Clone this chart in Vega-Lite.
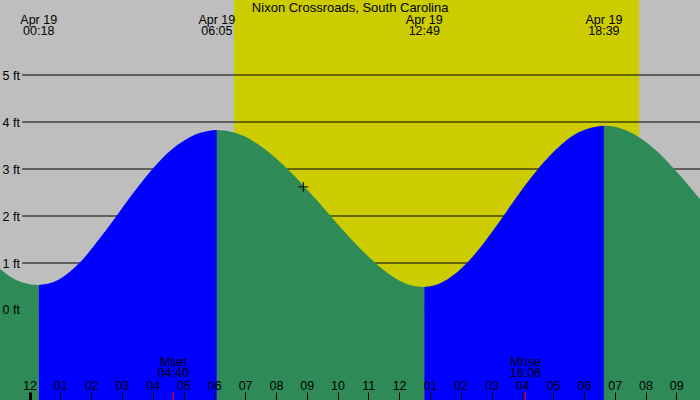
{
  "$schema": "https://vega.github.io/schema/vega-lite/v6.json",
  "width": 700,
  "height": 400,
  "padding": 0,
  "autosize": {"type": "none"},
  "background": "#BEBEBE",
  "config": {
    "font": "Liberation Sans",
    "view": {"stroke": null, "fill": "#BEBEBE"},
    "axis": {"labelFont": "Liberation Sans", "labelFontSize": 12.5, "labelColor": "#000000"}
  },
  "datasets": {
    "tide": [
      {"t": -0.958, "ft": 0.87, "seg": "A", "dir": "fall"},
      {"t": -0.5, "ft": 0.66, "seg": "A", "dir": "fall"},
      {"t": 0.0, "ft": 0.55, "seg": "A", "dir": "fall"},
      {"t": 0.3, "ft": 0.53, "seg": "A", "dir": "fall"},
      {"t": 0.3, "ft": 0.53, "seg": "B", "dir": "rise"},
      {"t": 0.8, "ft": 0.6, "seg": "B", "dir": "rise"},
      {"t": 1.3, "ft": 0.81, "seg": "B", "dir": "rise"},
      {"t": 1.8, "ft": 1.13, "seg": "B", "dir": "rise"},
      {"t": 2.3, "ft": 1.54, "seg": "B", "dir": "rise"},
      {"t": 2.8, "ft": 1.98, "seg": "B", "dir": "rise"},
      {"t": 3.3, "ft": 2.43, "seg": "B", "dir": "rise"},
      {"t": 3.8, "ft": 2.85, "seg": "B", "dir": "rise"},
      {"t": 4.3, "ft": 3.22, "seg": "B", "dir": "rise"},
      {"t": 4.8, "ft": 3.51, "seg": "B", "dir": "rise"},
      {"t": 5.3, "ft": 3.71, "seg": "B", "dir": "rise"},
      {"t": 5.8, "ft": 3.81, "seg": "B", "dir": "rise"},
      {"t": 6.083, "ft": 3.83, "seg": "B", "dir": "rise"},
      {"t": 6.083, "ft": 3.83, "seg": "C", "dir": "fall"},
      {"t": 6.5, "ft": 3.8, "seg": "C", "dir": "fall"},
      {"t": 7.0, "ft": 3.69, "seg": "C", "dir": "fall"},
      {"t": 7.5, "ft": 3.49, "seg": "C", "dir": "fall"},
      {"t": 8.0, "ft": 3.23, "seg": "C", "dir": "fall"},
      {"t": 8.5, "ft": 2.92, "seg": "C", "dir": "fall"},
      {"t": 9.0, "ft": 2.57, "seg": "C", "dir": "fall"},
      {"t": 9.5, "ft": 2.21, "seg": "C", "dir": "fall"},
      {"t": 10.0, "ft": 1.83, "seg": "C", "dir": "fall"},
      {"t": 10.5, "ft": 1.47, "seg": "C", "dir": "fall"},
      {"t": 11.0, "ft": 1.14, "seg": "C", "dir": "fall"},
      {"t": 11.5, "ft": 0.85, "seg": "C", "dir": "fall"},
      {"t": 12.0, "ft": 0.63, "seg": "C", "dir": "fall"},
      {"t": 12.5, "ft": 0.51, "seg": "C", "dir": "fall"},
      {"t": 12.817, "ft": 0.49, "seg": "C", "dir": "fall"},
      {"t": 12.817, "ft": 0.49, "seg": "D", "dir": "rise"},
      {"t": 13.3, "ft": 0.56, "seg": "D", "dir": "rise"},
      {"t": 13.8, "ft": 0.76, "seg": "D", "dir": "rise"},
      {"t": 14.3, "ft": 1.07, "seg": "D", "dir": "rise"},
      {"t": 14.8, "ft": 1.47, "seg": "D", "dir": "rise"},
      {"t": 15.3, "ft": 1.92, "seg": "D", "dir": "rise"},
      {"t": 15.8, "ft": 2.39, "seg": "D", "dir": "rise"},
      {"t": 16.3, "ft": 2.83, "seg": "D", "dir": "rise"},
      {"t": 16.8, "ft": 3.22, "seg": "D", "dir": "rise"},
      {"t": 17.3, "ft": 3.54, "seg": "D", "dir": "rise"},
      {"t": 17.8, "ft": 3.77, "seg": "D", "dir": "rise"},
      {"t": 18.3, "ft": 3.89, "seg": "D", "dir": "rise"},
      {"t": 18.65, "ft": 3.92, "seg": "D", "dir": "rise"},
      {"t": 18.65, "ft": 3.92, "seg": "E", "dir": "fall"},
      {"t": 19.0, "ft": 3.9, "seg": "E", "dir": "fall"},
      {"t": 19.5, "ft": 3.78, "seg": "E", "dir": "fall"},
      {"t": 20.0, "ft": 3.58, "seg": "E", "dir": "fall"},
      {"t": 20.5, "ft": 3.3, "seg": "E", "dir": "fall"},
      {"t": 21.0, "ft": 2.95, "seg": "E", "dir": "fall"},
      {"t": 21.5, "ft": 2.57, "seg": "E", "dir": "fall"},
      {"t": 21.769, "ft": 2.36, "seg": "E", "dir": "fall"}
    ],
    "extremes": [
      {"t": 0.3, "date": "Apr 19", "time": "00:18"},
      {"t": 6.083, "date": "Apr 19", "time": "06:05"},
      {"t": 12.817, "date": "Apr 19", "time": "12:49"},
      {"t": 18.65, "date": "Apr 19", "time": "18:39"}
    ],
    "moon": [
      {"t": 4.667, "name": "Mset", "time": "04:40"},
      {"t": 16.1, "name": "Mrise", "time": "16:06"}
    ],
    "levels": [{"level": 0}, {"level": 1}, {"level": 2}, {"level": 3}, {"level": 4}, {"level": 5}],
    "daylight": [{"t": 6.64, "t2": 19.79}],
    "now": [{"t": 8.89, "ft": 2.62}],
    "title": [{"t": 10.41, "label": "Nixon Crossroads, South Carolina"}]
  },
  "encoding": {
    "x": {"field": "t", "type": "quantitative", "scale": {"domain": [-0.958, 21.769], "nice": false, "zero": false},
      "axis": {
        "orient": "bottom", "offset": -8, "values": [-1,0,1,2,3,4,5,6,7,8,9,10,11,12,13,14,15,16,17,18,19,20,21],
        "domain": false, "grid": false, "title": null, "ticks": true, "tickSize": 8, "tickColor": "#000000",
        "tickWidth": {"condition": {"test": "datum.value === 0", "value": 3}, "value": 1},
        "labelPadding": -14.3, "labelBaseline": "middle", "labelOverlap": false, "labelFlush": false, "labelBound": false,
        "labelExpr": "(((datum.value+11)%12+12)%12+1) < 10 ? '0' + (((datum.value+11)%12+12)%12+1) : '' + (((datum.value+11)%12+12)%12+1)",
        "zindex": 1
      }}
  },
  "layer": [
    {
      "data": {"name": "daylight"},
      "mark": {"type": "rect", "color": "#CCCC00"},
      "encoding": {"x2": {"field": "t2"}}
    },
    {
      "data": {"name": "levels"},
      "transform": [{"calculate": "-0.24", "as": "t"}, {"calculate": "21.769", "as": "t2"}],
      "mark": {"type": "rule", "color": "#000000", "strokeWidth": 1},
      "encoding": {
        "y": {"field": "level", "type": "quantitative", "scale": {"domain": [-1.915, 6.596], "nice": false, "zero": false},
          "axis": {
            "orient": "left", "values": [0,1,2,3,4,5], "domain": false, "grid": false, "ticks": false, "title": null,
            "labelAlign": "left", "labelPadding": -2, "labelBaseline": "middle", "labelExpr": "datum.value + ' ft'", "zindex": 1
          }},
        "x2": {"field": "t2"}
      }
    },
    {
      "data": {"name": "tide"},
      "mark": {"type": "area", "interpolate": "monotone"},
      "encoding": {
        "y": {"field": "ft", "type": "quantitative", "stack": null},
        "y2": {"datum": -1.915},
        "color": {"field": "dir", "type": "nominal", "scale": {"domain": ["rise", "fall"], "range": ["#0000FF", "#2E8B57"]}, "legend": null},
        "detail": {"field": "seg"}
      }
    },
    {
      "data": {"name": "extremes"},
      "mark": {"type": "text", "fontSize": 12.5, "color": "#000000", "align": "center", "baseline": "middle"},
      "encoding": {"y": {"datum": 6.18}, "text": {"field": "date"}}
    },
    {
      "data": {"name": "extremes"},
      "mark": {"type": "text", "fontSize": 12.5, "color": "#000000", "align": "center", "baseline": "middle"},
      "encoding": {"y": {"datum": 5.93}, "text": {"field": "time"}}
    },
    {
      "data": {"name": "title"},
      "mark": {"type": "text", "fontSize": 13, "color": "#000000", "align": "center", "baseline": "middle"},
      "encoding": {"y": {"datum": 6.436}, "text": {"field": "label"}}
    },
    {
      "data": {"name": "moon"},
      "mark": {"type": "text", "fontSize": 12.5, "color": "#000000", "align": "center", "baseline": "middle"},
      "encoding": {"y": {"datum": -1.1}, "text": {"field": "name"}}
    },
    {
      "data": {"name": "moon"},
      "mark": {"type": "text", "fontSize": 12.5, "color": "#000000", "align": "center", "baseline": "middle"},
      "encoding": {"y": {"datum": -1.347}, "text": {"field": "time"}}
    },
    {
      "data": {"name": "moon"},
      "mark": {"type": "rule", "color": "#FF0000", "strokeWidth": 1},
      "encoding": {"y": {"datum": -1.915}, "y2": {"datum": -1.745}}
    },
    {
      "data": {"name": "now"},
      "mark": {"type": "point", "shape": "M-1,0L1,0M0,-1L0,1", "size": 100, "stroke": "#000000", "strokeWidth": 1, "filled": false, "opacity": 1},
      "encoding": {"y": {"field": "ft", "type": "quantitative"}}
    }
  ]
}
